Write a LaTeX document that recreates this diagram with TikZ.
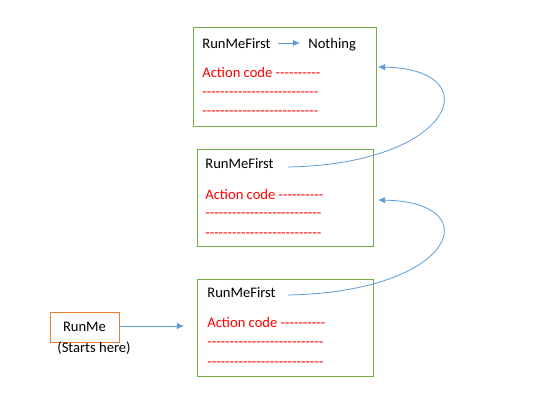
\documentclass[tikz,border=0pt]{standalone}
\usepackage{fontspec}
\setmainfont{Carlito}[Ligatures=TeXOff]
\usetikzlibrary{arrows.meta}
\definecolor{boxgreen}{HTML}{70AD47}
\definecolor{runorange}{HTML}{ED7D31}
\definecolor{flowblue}{HTML}{5B9BD5}

\begin{document}
\begin{tikzpicture}[x=0.02cm,y=-0.02cm,
  box/.style={draw=boxgreen, line width=0.45pt, minimum width=3.52cm, minimum height=1.94cm, inner sep=0},
  txt/.style={anchor=base west, inner sep=0, font=\fontsize{8.3}{10}\selectfont},
  code/.style={txt, text=red},
  flow/.style={draw=flowblue, line width=0.45pt, -{Latex[length=4pt,width=3.6pt]}}]

  \useasboundingbox (0,0) rectangle (533,413);

  % box 1
	\node[box, minimum width=3.66cm, minimum height=1.98cm] (first) at (284.5,76.5) {};
	\node[txt] (rmfA) at (202,48) {RunMeFirst};
	\node[txt] (nothing) at (308,48) {Nothing};
	\node[code] (actA) at (202,77) {Action code ----------};
	\node[code] (dashA1) at (202,96.5) {--------------------------};
	\node[code] (dashA2) at (202,115.5) {--------------------------};

  % box 2
	\node[box] (second) at (285,198) {};
	\node[txt] (rmfB) at (205,168) {RunMeFirst};
	\node[code] (actB) at (205,199) {Action code ----------};
	\node[code] (dashB1) at (205,217.5) {--------------------------};
	\node[code] (dashB2) at (205,237.5) {--------------------------};

  % box 3
	\node[box] (third) at (285,327.5) {};
	\node[txt] (rmfC) at (207,297) {RunMeFirst};
	\node[code] (actC) at (207,327) {Action code ----------};
	\node[code] (dashC1) at (207,346) {--------------------------};
	\node[code] (dashC2) at (207,366) {--------------------------};

  % start
	\node[draw=runorange, line width=0.45pt, minimum width=1.38cm, minimum height=0.6cm, inner sep=0,
	  font=\fontsize{8.3}{10}\selectfont] (runme) at (84.5,327) {RunMe};
	\node[txt] (starts) at (57,352) {(Starts here)};

  % calls
	\coordinate (inC) at (184,326);
	\coordinate (outC) at (288,295);
	\coordinate (tipB) at (378,200);
	\coordinate (outB) at (288,167);
	\coordinate (tipA) at (378,67);
	\draw[flow] (runme.east |- inC) -- (inC);
	\draw[flow] ([xshift=0.14cm]rmfA.east |- 0,43) -- ([xshift=-0.16cm]nothing.west |- 0,43);
	\draw[flow] (outC) .. controls (455,292) and (490,202) .. (tipB);
	\draw[flow] (outB) .. controls (455,164) and (490,69) .. (tipA);

\end{tikzpicture}
\end{document}
